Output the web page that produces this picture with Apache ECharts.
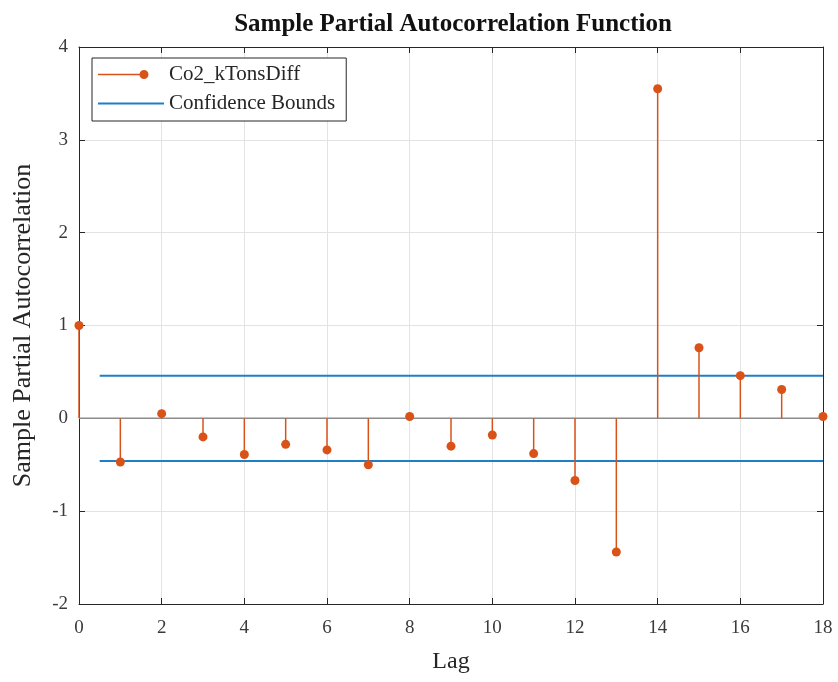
<!DOCTYPE html>
<html>
<head>
<meta charset="utf-8">
<script src="https://cdn.jsdelivr.net/npm/echarts@6/dist/echarts.min.js"></script>
<style>html,body{margin:0;padding:0;background:#fff;}#c{width:838px;height:682px;}</style>
</head>
<body>
<div id="c"></div>
<script>
var lags = [0,1,2,3,4,5,6,7,8,9,10,11,12,13,14,15,16,17,18];
var pacf = [1.0,-0.47,0.05,-0.20,-0.39,-0.28,-0.34,-0.50,0.02,-0.30,-0.18,-0.38,-0.67,-1.44,3.55,0.76,0.46,0.31,0.02];
var boundX = [0.5, 18];
var upperBound = 0.46;
var lowerBound = -0.46;
var baseX = [0, 18];
var xTicks = {min:0, max:18, interval:2};
var yTicks = {min:-2, max:4, interval:1};

var STEM = '#D95319', BOUND = '#1f7fc6', AX = '#262626', FONT = 'Liberation Serif';
var chart = echarts.init(document.getElementById('c'), null, {renderer:'canvas'});

var stemData = lags.map(function(l,i){return [l, pacf[i]];});
var BBOX = ' M65.95,-0.5L66,-0.5L66,-0.45L65.95,-0.45Z M0,8.45L0.05,8.45L0.05,8.5L0,8.5Z';
var legendIcon1 = 'path://M0,3.25L46,3.25L46,4.75L0,4.75Z M41.5,4A4.5,4.5 0 1 1 50.5,4A4.5,4.5 0 1 1 41.5,4Z' + BBOX;
var legendIcon2 = 'path://M0,3L66,3L66,5L0,5Z' + BBOX;

function axisCommon(pos, showLabels){
  return {
    type:'value', position:pos,
    axisLine:{show:true, onZero:false, lineStyle:{color:AX, width:1}},
    axisTick:{show:true, inside:true, length:6, lineStyle:{color:AX}},
    axisLabel:{show:showLabels, color:'#3a3a3a', fontFamily:FONT, fontSize:19},
    splitLine:{show:false}
  };
}
var xMain = Object.assign(axisCommon('bottom', true), xTicks, {
  name:'Lag', nameLocation:'middle', nameGap:46,
  nameTextStyle:{fontFamily:FONT, fontSize:24, color:AX},
  splitLine:{show:true, lineStyle:{color:'#e3e3e3', width:1}},
  axisLabel:{show:true, color:'#3a3a3a', fontFamily:FONT, fontSize:19, margin:15}
});
var xTop = Object.assign(axisCommon('top', false), xTicks);
var yMain = Object.assign(axisCommon('left', true), yTicks, {
  name:'Sample Partial Autocorrelation', nameLocation:'middle', nameGap:43,
  nameTextStyle:{fontFamily:FONT, fontSize:26, color:AX},
  splitLine:{show:true, lineStyle:{color:'#e3e3e3', width:1}},
  axisLabel:{show:true, color:'#3a3a3a', fontFamily:FONT, fontSize:19, margin:11}
});
var yRight = Object.assign(axisCommon('right', false), yTicks);

chart.setOption({
  animation:false,
  backgroundColor:'#fff',
  title:{text:'Sample Partial Autocorrelation Function', left:448, textAlign:'center', top:7,
    textStyle:{fontFamily:FONT, fontWeight:'bold', fontSize:25, color:'#111'}},
  grid:{left:79, right:15, top:47, bottom:78},
  xAxis:[xMain, xTop],
  yAxis:[yMain, yRight],
  legend:{
    orient:'vertical', left:92, top:58, padding:[6,11,7,6], itemGap:8,
    itemWidth:66, itemHeight:9,
    backgroundColor:'#fff', borderColor:AX, borderWidth:1, borderRadius:0,
    textStyle:{fontFamily:FONT, fontSize:21, color:AX, padding:[0,0,0,0]},
    data:[{name:'Co2_kTonsDiff', icon:legendIcon1, itemStyle:{color:STEM}},
          {name:'Confidence Bounds', icon:legendIcon2, itemStyle:{color:BOUND}}]
  },
  series:[
    {type:'line', name:'baseline', silent:true, xAxisIndex:0, yAxisIndex:0, symbol:'none',
     data:[[baseX[0],0],[baseX[1],0]], lineStyle:{color:'#8c8c8c', width:1.5}, z:1},
    {type:'line', name:'Confidence Bounds', symbol:'none', silent:true,
     data:[[boundX[0],upperBound],[boundX[1],upperBound]], lineStyle:{color:BOUND, width:2}, itemStyle:{color:BOUND}, z:2},
    {type:'line', name:'Confidence Bounds', symbol:'none', silent:true,
     data:[[boundX[0],lowerBound],[boundX[1],lowerBound]], lineStyle:{color:BOUND, width:2}, itemStyle:{color:BOUND}, z:2},
    {type:'custom', name:'Co2_kTonsDiff', data:stemData, clip:false, z:3,
     itemStyle:{color:STEM},
     renderItem:function(params, api){
       var x = api.value(0), y = api.value(1);
       var p0 = api.coord([x,0]), p1 = api.coord([x,y]);
       return {type:'group', children:[
         {type:'line', shape:{x1:p0[0],y1:p0[1],x2:p1[0],y2:p1[1]}, style:{stroke:STEM, lineWidth:1.5}},
         {type:'circle', shape:{cx:p1[0],cy:p1[1],r:4.5}, style:{fill:STEM}}
       ]};
     }}
  ]
});
</script>
</body>
</html>
